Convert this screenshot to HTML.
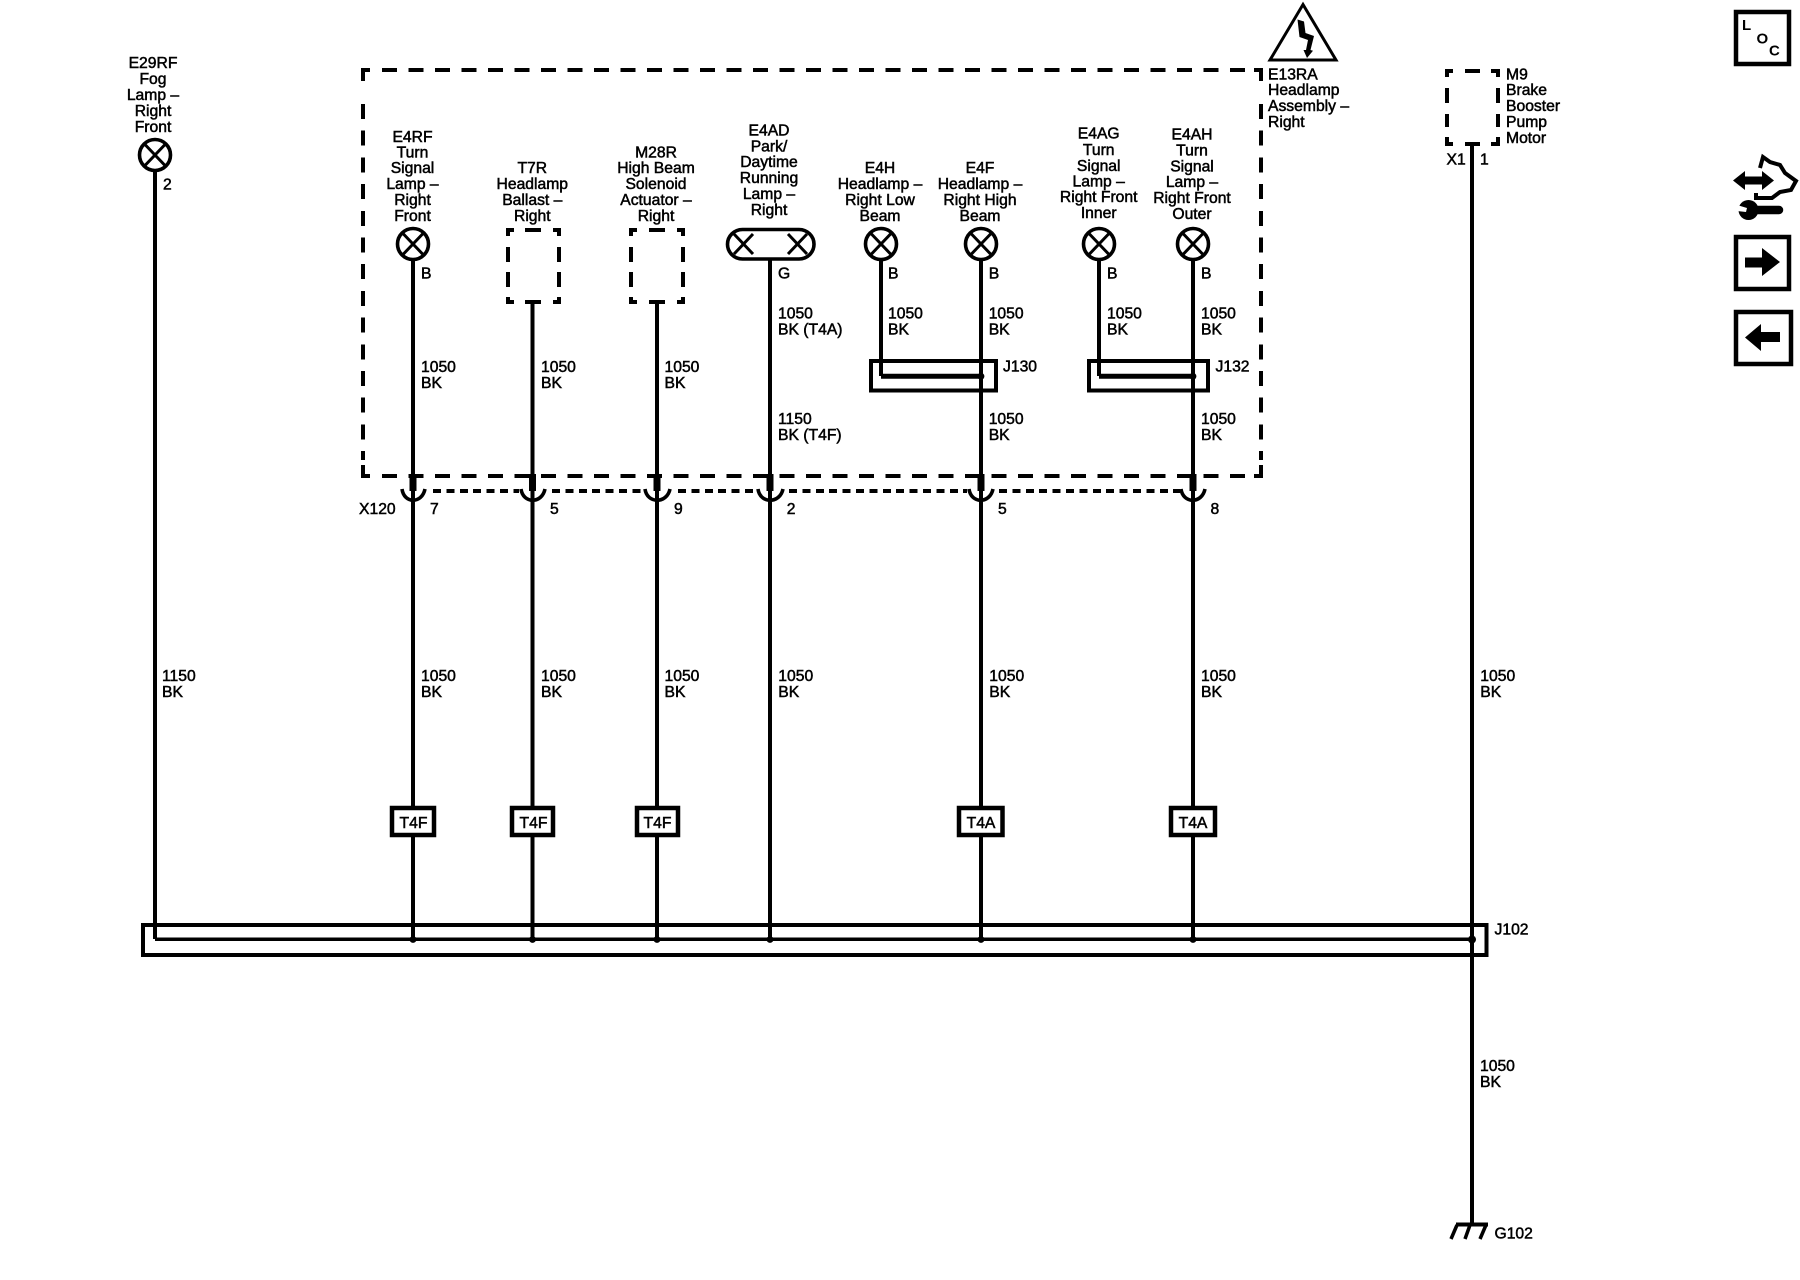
<!DOCTYPE html>
<html><head><meta charset="utf-8"><title>Wiring diagram</title>
<style>
html,body{margin:0;padding:0;background:#fff}
svg{display:block}
text{font-family:"Liberation Sans",sans-serif;font-size:15.7px;fill:#000;stroke:#000;stroke-width:.5px}
.c{text-anchor:middle}
.b{font-weight:bold;stroke-width:0}
</style></head><body>
<svg width="1800" height="1280" viewBox="0 0 1800 1280" xmlns="http://www.w3.org/2000/svg">
<rect width="1800" height="1280" fill="#fff"/>
<!-- headlamp assembly dashed box -->
<g fill="none" stroke="#000" stroke-width="4" shape-rendering="crispEdges">
<path d="M363 81V70H370M363 465V476H370M1261 81V70H1254M1261 465V476H1254"/>
<path d="M382 70H1250M382 476H1250" stroke-dasharray="15 11.5"/>
<path d="M363 104V460M1261 104V460" stroke-dasharray="15 11.7"/>
<!-- connector X120 dashed -->
<path d="M433 491H519M552 491H644M678 491H756M789 491H967M999 491H1180" stroke-dasharray="8 5.4"/>
</g>
<!-- wires -->
<g stroke="#000" stroke-width="4" fill="none">
<path d="M155 171V939M413 260V939M532.5 304V939M657 304V939M770 260V939M981 260V939M1193 260V939M881 260V376M1099 260V376M1472 145V1225"/>
<path d="M155 939.3H1472" stroke-width="3.5"/>
<path d="M881 376.3H981M1099 376.3H1193" stroke-width="5"/>
<path d="M413 474V491M532.5 474V491M657 474V491M770 474V491M981 474V491M1193 474V491" stroke-width="7"/>
<!-- cups -->
<g stroke-width="3.6">
<path d="M402 489C404 504 422 504 425 489"/>
<path d="M521 489C523 504 542 504 545 489"/>
<path d="M645 489C647 504 667 504 670 489"/>
<path d="M758 489C760 504 780 504 783 489"/>
<path d="M969 489C971 504 990 504 993 489"/>
<path d="M1181 489C1183 504 1202 504 1205 489"/>
</g>
<!-- splice boxes -->
<rect x="143" y="925" width="1343.5" height="30"/>
<rect x="871" y="361" width="125" height="29.5"/>
<rect x="1089" y="361" width="119" height="29.5"/>
<!-- ground -->
<path d="M1456 1224.5H1488" stroke-width="4"/>
<path d="M1457 1225L1451 1239M1470 1225L1465 1239M1486 1225L1480 1239" stroke-width="3.5"/>
</g>
<g fill="#000">
<circle cx="413" cy="939.5" r="3.4"/><circle cx="532.5" cy="939.5" r="3.4"/><circle cx="657" cy="939.5" r="3.4"/><circle cx="770" cy="939.5" r="3.4"/><circle cx="981" cy="939.5" r="3.4"/><circle cx="1193" cy="939.5" r="3.4"/><circle cx="1472" cy="939.5" r="4"/>
<circle cx="981" cy="376.3" r="3.4"/><circle cx="1193" cy="376.3" r="3.4"/>
</g>
<!-- lamps -->
<g fill="#fff" stroke="#000" stroke-width="3.6">
<g><circle cx="155" cy="155" r="15.5"/><path d="M144.5 144L165.5 166M165.5 144L144.5 166" fill="none" stroke-width="3"/></g>
<g><circle cx="413" cy="244" r="15.5"/><path d="M402.5 233L423.5 255M423.5 233L402.5 255" fill="none" stroke-width="3"/></g>
<g><circle cx="881" cy="244" r="15.5"/><path d="M870.5 233L891.5 255M891.5 233L870.5 255" fill="none" stroke-width="3"/></g>
<g><circle cx="981" cy="244" r="15.5"/><path d="M970.5 233L991.5 255M991.5 233L970.5 255" fill="none" stroke-width="3"/></g>
<g><circle cx="1099" cy="244" r="15.5"/><path d="M1088.5 233L1109.5 255M1109.5 233L1088.5 255" fill="none" stroke-width="3"/></g>
<g><circle cx="1193" cy="244" r="15.5"/><path d="M1182.5 233L1203.5 255M1203.5 233L1182.5 255" fill="none" stroke-width="3"/></g>
<rect x="727.5" y="229.5" width="86.5" height="29.5" rx="15" ry="14.7"/>
<path d="M734 234L753 254M753 234L734 254M788 234L807 254M807 234L788 254" fill="none" stroke-width="3"/>
</g>
<!-- dashed components -->
<g fill="none" stroke="#000" stroke-width="3.6" shape-rendering="crispEdges">
<path d="M514 230H508V236M508 247V262M508 272V287M508 297V302H514M525 230H541M553 230H559V236M559 247V262M559 272V287M559 297V302H553M525 302H541"/>
<path d="M637 230H631V236M631 247V262M631 272V287M631 297V302H637M649 230H665M677 230H683V236M683 247V262M683 272V287M683 297V302H677M649 302H665"/>
<path d="M1453 71H1447V77M1447 88V103M1447 114V127M1447 137V144H1453M1465 71H1480M1491 71H1498V77M1498 88V103M1498 114V127M1498 137V144H1491M1465 144H1480"/>
</g>
<!-- tag boxes -->
<g fill="#fff" stroke="#000" stroke-width="4.5">
<rect x="392" y="808" width="42" height="27"/>
<rect x="512" y="808" width="41" height="27"/>
<rect x="637" y="808" width="41" height="27"/>
<rect x="959" y="808" width="43.5" height="27"/>
<rect x="1171" y="808" width="44" height="27"/>
</g>
<text class="c" x="413.5" y="828">T4F</text><text class="c" x="533.5" y="828">T4F</text><text class="c" x="657.5" y="828">T4F</text><text class="c" x="981" y="828">T4A</text><text class="c" x="1193" y="828">T4A</text>
<!-- component labels -->
<text class="c"><tspan x="153" y="68">E29RF</tspan><tspan x="153" y="84">Fog</tspan><tspan x="153" y="100">Lamp –</tspan><tspan x="153" y="116">Right</tspan><tspan x="153" y="132">Front</tspan></text>
<text class="c"><tspan x="412.5" y="142">E4RF</tspan><tspan x="412.5" y="157.5">Turn</tspan><tspan x="412.5" y="173">Signal</tspan><tspan x="412.5" y="189">Lamp –</tspan><tspan x="412.5" y="205">Right</tspan><tspan x="412.5" y="221">Front</tspan></text>
<text class="c"><tspan x="532.3" y="173">T7R</tspan><tspan x="532.3" y="189">Headlamp</tspan><tspan x="532.3" y="205">Ballast –</tspan><tspan x="532.3" y="221">Right</tspan></text>
<text class="c"><tspan x="656" y="157.5">M28R</tspan><tspan x="656" y="173">High Beam</tspan><tspan x="656" y="189">Solenoid</tspan><tspan x="656" y="205">Actuator –</tspan><tspan x="656" y="221">Right</tspan></text>
<text class="c"><tspan x="769" y="135.5">E4AD</tspan><tspan x="769" y="151.5">Park/</tspan><tspan x="769" y="167">Daytime</tspan><tspan x="769" y="183">Running</tspan><tspan x="769" y="199">Lamp –</tspan><tspan x="769" y="215">Right</tspan></text>
<text class="c"><tspan x="880" y="173">E4H</tspan><tspan x="880" y="189">Headlamp –</tspan><tspan x="880" y="205">Right Low</tspan><tspan x="880" y="221">Beam</tspan></text>
<text class="c"><tspan x="980" y="173">E4F</tspan><tspan x="980" y="189">Headlamp –</tspan><tspan x="980" y="205">Right High</tspan><tspan x="980" y="221">Beam</tspan></text>
<text class="c"><tspan x="1098.7" y="138.5">E4AG</tspan><tspan x="1098.7" y="155">Turn</tspan><tspan x="1098.7" y="171">Signal</tspan><tspan x="1098.7" y="186.5">Lamp –</tspan><tspan x="1098.7" y="202">Right Front</tspan><tspan x="1098.7" y="218">Inner</tspan></text>
<text class="c"><tspan x="1192" y="139.5">E4AH</tspan><tspan x="1192" y="155.5">Turn</tspan><tspan x="1192" y="171.3">Signal</tspan><tspan x="1192" y="187">Lamp –</tspan><tspan x="1192" y="203">Right Front</tspan><tspan x="1192" y="219">Outer</tspan></text>
<text><tspan x="1268" y="79.3">E13RA</tspan><tspan x="1268" y="95">Headlamp</tspan><tspan x="1268" y="111">Assembly –</tspan><tspan x="1268" y="127">Right</tspan></text>
<text><tspan x="1506" y="79.3">M9</tspan><tspan x="1506" y="95">Brake</tspan><tspan x="1506" y="111">Booster</tspan><tspan x="1506" y="127">Pump</tspan><tspan x="1506" y="143">Motor</tspan></text>
<!-- pin labels -->
<text x="163" y="189.5">2</text>
<text x="421" y="278.7">B</text><text x="778" y="278.7">G</text><text x="888" y="278.7">B</text><text x="988.7" y="278.7">B</text><text x="1107" y="278.7">B</text><text x="1201" y="278.7">B</text>
<text x="1446.5" y="164.7">X1</text><text x="1480" y="164.7">1</text>
<text x="359" y="514">X120</text><text x="430" y="514">7</text><text x="550" y="514">5</text><text x="674" y="514">9</text><text x="786.7" y="514">2</text><text x="998" y="514">5</text><text x="1210.5" y="514">8</text>
<text x="1003" y="371.7">J130</text><text x="1215.5" y="371.7">J132</text>
<text x="1494.5" y="934.3">J102</text><text x="1494.5" y="1238.7">G102</text>
<!-- wire labels: upper -->
<text><tspan x="421" y="372">1050</tspan><tspan x="421" y="388">BK</tspan></text>
<text><tspan x="541" y="372">1050</tspan><tspan x="541" y="388">BK</tspan></text>
<text><tspan x="664.5" y="372">1050</tspan><tspan x="664.5" y="388">BK</tspan></text>
<text><tspan x="778" y="318.3">1050</tspan><tspan x="778" y="334.3">BK (T4A)</tspan></text>
<text><tspan x="778" y="424">1150</tspan><tspan x="778" y="440">BK (T4F)</tspan></text>
<text><tspan x="888" y="318.3">1050</tspan><tspan x="888" y="334.3">BK</tspan></text>
<text><tspan x="988.7" y="318.3">1050</tspan><tspan x="988.7" y="334.3">BK</tspan></text>
<text><tspan x="988.7" y="424">1050</tspan><tspan x="988.7" y="440">BK</tspan></text>
<text><tspan x="1107" y="318.3">1050</tspan><tspan x="1107" y="334.3">BK</tspan></text>
<text><tspan x="1201" y="318.3">1050</tspan><tspan x="1201" y="334.3">BK</tspan></text>
<text><tspan x="1201" y="424">1050</tspan><tspan x="1201" y="440">BK</tspan></text>
<!-- wire labels: lower -->
<text><tspan x="162" y="681">1150</tspan><tspan x="162" y="697">BK</tspan></text>
<text><tspan x="421" y="681">1050</tspan><tspan x="421" y="697">BK</tspan></text>
<text><tspan x="541" y="681">1050</tspan><tspan x="541" y="697">BK</tspan></text>
<text><tspan x="664.5" y="681">1050</tspan><tspan x="664.5" y="697">BK</tspan></text>
<text><tspan x="778.3" y="681">1050</tspan><tspan x="778.3" y="697">BK</tspan></text>
<text><tspan x="989.3" y="681">1050</tspan><tspan x="989.3" y="697">BK</tspan></text>
<text><tspan x="1201" y="681">1050</tspan><tspan x="1201" y="697">BK</tspan></text>
<text><tspan x="1480.3" y="681">1050</tspan><tspan x="1480.3" y="697">BK</tspan></text>
<text><tspan x="1480" y="1071">1050</tspan><tspan x="1480" y="1087">BK</tspan></text>
<!-- warning triangle -->
<path d="M1303 4.5L1336 60H1270Z" fill="#fff" stroke="#000" stroke-width="3"/>
<path d="M1297.5 19.5L1304 21.5L1305.5 33L1314 36L1310.5 50L1313 50.7L1307 58L1303.5 50L1306 50L1308 40L1299.5 37Z" fill="#000"/>
<!-- right icons -->
<g fill="none" stroke="#000" stroke-width="4.5">
<rect x="1736" y="12" width="53" height="52"/>
<rect x="1736" y="237" width="53" height="52"/>
<rect x="1736" y="312" width="55" height="52"/>
</g>
<text class="b" x="1742" y="30" style="font-size:15px">L</text>
<text class="b" x="1756.5" y="43.5" style="font-size:15px">O</text>
<text class="b" x="1769" y="55.5" style="font-size:15px">C</text>
<path d="M1745 257.5H1762V248L1780 262L1762 276V267.5H1745Z" fill="#000"/>
<path d="M1780 332H1761V324L1745 337.5L1761 351V342H1780Z" fill="#000"/>
<!-- service icon -->
<path d="M1733 180.5L1745 171V176.5H1762V171L1774 180.500L1762 190V184.500H1745V190Z" fill="#000"/>
<path d="M1760 168L1763 157L1770 162L1780 165L1785 173L1796 181L1791 190L1780 192L1772 198H1756V193" fill="none" stroke="#000" stroke-width="4"/>
<path d="M1750 210H1779" stroke="#000" stroke-width="8.500" stroke-linecap="round"/>
<circle cx="1748.500" cy="210" r="10" fill="#000"/>
<path d="M1737 205L1747 208L1746 212L1737 211Z" fill="#fff"/>
</svg>
</body></html>
